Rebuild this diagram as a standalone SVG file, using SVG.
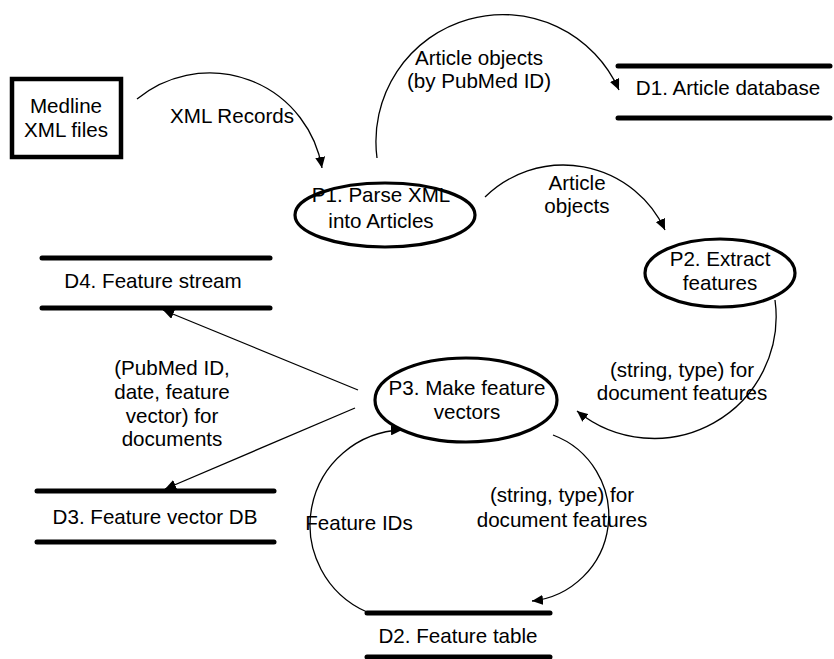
<svg xmlns="http://www.w3.org/2000/svg" width="834" height="659" viewBox="0 0 834 659">
<style>
text{font-family:"Liberation Sans",Arial,sans-serif;font-size:20.6px;fill:#000;text-anchor:middle}
.store{stroke:#000;stroke-width:5;stroke-linecap:round}
.proc{fill:#fff;stroke:#000;stroke-width:3.2}
.flow{fill:none;stroke:#000;stroke-width:1.3}
</style>
<defs>
<marker id="arr" markerUnits="userSpaceOnUse" markerWidth="12" markerHeight="10" refX="11" refY="5" orient="auto">
<path d="M0,0 L11,5 L0,10 z" fill="#000"/>
</marker>
</defs>
<rect width="834" height="659" fill="#fff"/>
<g id="connectors">
<path class="flow" d="M137,99 A114,114 0 0 1 322,168" marker-end="url(#arr)"/>
<path class="flow" d="M377,158 A127,127 0 0 1 619,90" marker-end="url(#arr)"/>
<path class="flow" d="M485,197 A112,112 0 0 1 665,230" marker-end="url(#arr)"/>
<path class="flow" d="M775,300 A122,122 0 0 1 577,411" marker-end="url(#arr)"/>
<path class="flow" d="M358,390 L163,310" marker-end="url(#arr)"/>
<path class="flow" d="M355,408 L165,489" marker-end="url(#arr)"/>
<path class="flow" d="M367,612 A95,95 0 0 1 402,430" marker-end="url(#arr)"/>
<path class="flow" d="M553,435 A86,86 0 0 1 532,601" marker-end="url(#arr)"/>
<text x="232" y="123">XML Records</text>
<text x="479" y="65">Article objects</text>
<text x="479" y="88">(by PubMed ID)</text>
<text x="577" y="190">Article</text>
<text x="577" y="213">objects</text>
<text x="682" y="377">(string, type) for</text>
<text x="682" y="400">document features</text>
<text x="172" y="375">(PubMed ID,</text>
<text x="172" y="399">date, feature</text>
<text x="172" y="423">vector) for</text>
<text x="172" y="446">documents</text>
<text x="359" y="530">Feature IDs</text>
<text x="562" y="502">(string, type) for</text>
<text x="562" y="527">document features</text>
</g>
<g id="medline">
<rect x="12" y="79" width="109" height="78" fill="#fff" stroke="#000" stroke-width="4.5"/>
<text x="66" y="113">Medline</text>
<text x="66" y="137">XML files</text>
</g>
<g id="p1">
<ellipse class="proc" cx="385" cy="215" rx="90" ry="32"/>
<text x="381" y="202">P1. Parse XML</text>
<text x="381" y="228">into Articles</text>
</g>
<g id="p2">
<ellipse class="proc" cx="720" cy="273" rx="75" ry="34"/>
<text x="720" y="266">P2. Extract</text>
<text x="720" y="290">features</text>
</g>
<g id="p3">
<ellipse class="proc" cx="466" cy="400" rx="91" ry="42"/>
<text x="467" y="395">P3. Make feature</text>
<text x="467" y="419">vectors</text>
</g>
<g id="d1">
<line class="store" x1="618" y1="66" x2="830" y2="66"/>
<line class="store" x1="618" y1="118" x2="830" y2="118"/>
<text x="728" y="95">D1. Article database</text>
</g>
<g id="d4">
<line class="store" x1="42" y1="258" x2="270" y2="258"/>
<line class="store" x1="42" y1="308" x2="270" y2="308"/>
<text x="153" y="288">D4. Feature stream</text>
</g>
<g id="d3">
<line class="store" x1="37" y1="491" x2="274" y2="491"/>
<line class="store" x1="37" y1="542" x2="274" y2="542"/>
<text x="155" y="524">D3. Feature vector DB</text>
</g>
<g id="d2">
<line class="store" x1="367" y1="613" x2="550" y2="613"/>
<line class="store" x1="367" y1="657" x2="550" y2="657"/>
<text x="458" y="643">D2. Feature table</text>
</g>
</svg>
